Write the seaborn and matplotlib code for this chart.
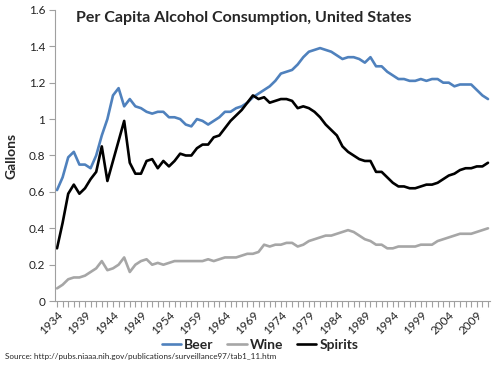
import pandas as pd
import matplotlib.pyplot as plt
import seaborn as sns
from matplotlib.lines import Line2D

# Per capita consumption, gallons of ethanol, 1934-2011
years = list(range(1934, 2012))

beer = [0.61, 0.68, 0.79, 0.82, 0.75, 0.75, 0.73, 0.80, 0.91, 1.00,
        1.13, 1.17, 1.07, 1.11, 1.07, 1.06, 1.04, 1.03, 1.04, 1.04,
        1.01, 1.01, 1.00, 0.97, 0.96, 1.00, 0.99, 0.97, 0.99, 1.01,
        1.04, 1.04, 1.06, 1.07, 1.09, 1.12, 1.14, 1.16, 1.18, 1.21,
        1.25, 1.26, 1.27, 1.30, 1.34, 1.37, 1.38, 1.39, 1.38, 1.37,
        1.35, 1.33, 1.34, 1.34, 1.33, 1.31, 1.34, 1.29, 1.29, 1.26,
        1.24, 1.22, 1.22, 1.21, 1.21, 1.22, 1.21, 1.22, 1.22, 1.20,
        1.20, 1.18, 1.19, 1.19, 1.19, 1.16, 1.13, 1.11]

wine = [0.07, 0.09, 0.12, 0.13, 0.13, 0.14, 0.16, 0.18, 0.22, 0.17,
        0.18, 0.20, 0.24, 0.16, 0.20, 0.22, 0.23, 0.20, 0.21, 0.20,
        0.21, 0.22, 0.22, 0.22, 0.22, 0.22, 0.22, 0.23, 0.22, 0.23,
        0.24, 0.24, 0.24, 0.25, 0.26, 0.26, 0.27, 0.31, 0.30, 0.31,
        0.31, 0.32, 0.32, 0.30, 0.31, 0.33, 0.34, 0.35, 0.36, 0.36,
        0.37, 0.38, 0.39, 0.38, 0.36, 0.34, 0.33, 0.31, 0.31, 0.29,
        0.29, 0.30, 0.30, 0.30, 0.30, 0.31, 0.31, 0.31, 0.33, 0.34,
        0.35, 0.36, 0.37, 0.37, 0.37, 0.38, 0.39, 0.40]

spirits = [0.29, 0.43, 0.59, 0.64, 0.59, 0.62, 0.67, 0.71, 0.85, 0.66,
           0.77, 0.88, 0.99, 0.76, 0.70, 0.70, 0.77, 0.78, 0.73, 0.77,
           0.74, 0.77, 0.81, 0.80, 0.80, 0.84, 0.86, 0.86, 0.90, 0.91,
           0.95, 0.99, 1.02, 1.05, 1.09, 1.13, 1.11, 1.12, 1.09, 1.10,
           1.11, 1.11, 1.10, 1.06, 1.07, 1.06, 1.04, 1.01, 0.97, 0.94,
           0.91, 0.85, 0.82, 0.80, 0.78, 0.77, 0.77, 0.71, 0.71, 0.68,
           0.65, 0.63, 0.63, 0.62, 0.62, 0.63, 0.64, 0.64, 0.65, 0.67,
           0.69, 0.70, 0.72, 0.73, 0.73, 0.74, 0.74, 0.76]

series = ['Beer', 'Wine', 'Spirits']
colors = {'Beer': '#4f81bd', 'Wine': '#a6a6a6', 'Spirits': '#000000'}

df = pd.DataFrame({'Year': years, 'Beer': beer, 'Wine': wine, 'Spirits': spirits})
long_df = df.melt(id_vars='Year', var_name='Type', value_name='Gallons')

sns.set_style('white')
plt.rcParams['font.family'] = ['Lato', 'DejaVu Sans']

fig = plt.figure(figsize=(5, 3.65), dpi=100)
ax = fig.add_axes([0.11, 0.175, 0.87, 0.798])

sns.lineplot(data=long_df, x='Year', y='Gallons', hue='Type', hue_order=series,
             palette=colors, linewidth=1.9, legend=False, ax=ax)

ax.set_xlim(1934 - 0.36, 2011 + 0.36)
ax.set_ylim(0, 1.6)
ax.set_yticks([0, 0.2, 0.4, 0.6, 0.8, 1.0, 1.2, 1.4, 1.6])
ax.set_yticklabels(['0', '0.2', '0.4', '0.6', '0.8', '1', '1.2', '1.4', '1.6'],
                   fontsize=8.5, color='#222222')
ax.set_xticks(years[::5])
ax.set_xticklabels([str(y) for y in years[::5]], rotation=45, ha='right',
                   rotation_mode='anchor', fontsize=8.5, color='#222222')
ax.set_xticks(years, minor=True)
ax.tick_params(axis='x', which='both', direction='out', length=4, width=0.8,
               color='#a0a0a0', bottom=True, pad=2)
ax.tick_params(axis='y', direction='out', length=4, width=0.8, color='#a0a0a0',
               left=True, pad=3)

for side in ['top', 'right']:
    ax.spines[side].set_visible(False)
for side in ['left', 'bottom']:
    ax.spines[side].set_color('#a0a0a0')
    ax.spines[side].set_linewidth(0.8)

ax.set_xlabel('')
ax.set_ylabel('Gallons', fontsize=10, fontweight='bold', labelpad=8)

fig.text(0.488, 0.95, 'Per Capita Alcohol Consumption, United States',
         ha='center', va='center', fontsize=11.5, fontweight='bold')

handles = [Line2D([0], [0], color=colors[s], linewidth=1.9) for s in series]
fig.legend(handles, series, loc='center', bbox_to_anchor=(0.52, 0.055), ncol=3,
           frameon=False, prop={'size': 10, 'weight': 'bold'}, handlelength=1.4,
           handletextpad=0.2, columnspacing=1.0)

fig.text(0.01, 0.022, 'Source: http://pubs.niaaa.nih.gov/publications/surveillance97/tab1_11.htm',
         ha='left', va='center', fontsize=5.9)

fig.savefig('out.png', dpi=100)
